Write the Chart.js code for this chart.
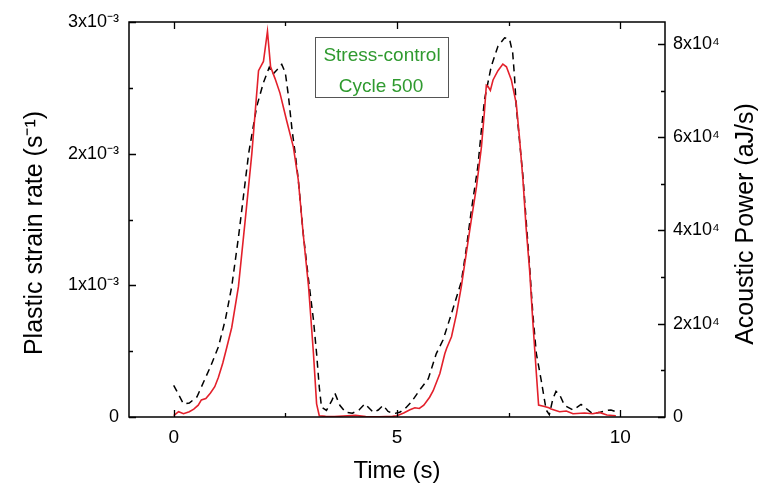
<!DOCTYPE html>
<html>
<head>
<meta charset="utf-8">
<script src="https://cdn.jsdelivr.net/npm/chart.js@4/dist/chart.umd.min.js"></script>
<style>
  html, body { margin: 0; padding: 0; background: #ffffff; }
  #wrap { width: 769px; height: 487px; }
</style>
</head>
<body>
<div id="wrap"><canvas id="c" width="769" height="487"></canvas></div>
<script>
// ---- Data ----
// Plastic strain rate (left axis, s^-1)
const strainTime = [0.00,0.11,0.22,0.35,0.45,0.55,0.62,0.72,0.82,0.92,1.00,1.10,1.19,1.30,1.45,1.60,1.75,1.90,2.01,2.10,2.17,2.27,2.38,2.53,2.68,2.79,2.90,3.02,3.13,3.20,3.26,3.40,3.60,3.80,4.07,4.30,4.60,4.90,5.00,5.15,5.29,5.40,5.50,5.60,5.73,5.81,5.96,6.07,6.11,6.22,6.33,6.44,6.55,6.66,6.78,6.89,6.96,7.00,7.04,7.09,7.15,7.26,7.37,7.45,7.56,7.67,7.74,7.82,7.89,7.97,8.04,8.12,8.17,8.30,8.40,8.45,8.64,8.79,8.94,9.20,9.38,9.53,9.70,9.90];
const strainRate = [0.010e-3,0.040e-3,0.025e-3,0.040e-3,0.060e-3,0.090e-3,0.130e-3,0.140e-3,0.180e-3,0.230e-3,0.300e-3,0.410e-3,0.530e-3,0.680e-3,0.990e-3,1.490e-3,2.000e-3,2.630e-3,2.700e-3,2.930e-3,2.660e-3,2.570e-3,2.460e-3,2.250e-3,2.050e-3,1.800e-3,1.390e-3,0.990e-3,0.480e-3,0.100e-3,0.010e-3,0.005e-3,0.003e-3,0.008e-3,0.012e-3,0.003e-3,0.002e-3,0.005e-3,0.010e-3,0.030e-3,0.055e-3,0.070e-3,0.065e-3,0.090e-3,0.150e-3,0.200e-3,0.330e-3,0.480e-3,0.520e-3,0.610e-3,0.780e-3,0.990e-3,1.240e-3,1.490e-3,1.750e-3,2.050e-3,2.330e-3,2.520e-3,2.510e-3,2.480e-3,2.560e-3,2.630e-3,2.680e-3,2.660e-3,2.560e-3,2.380e-3,2.130e-3,1.800e-3,1.440e-3,1.110e-3,0.730e-3,0.330e-3,0.090e-3,0.080e-3,0.070e-3,0.060e-3,0.040e-3,0.045e-3,0.025e-3,0.030e-3,0.025e-3,0.035e-3,0.015e-3,0.010e-3];

// Acoustic power (right axis, aJ/s)
const acousticTime = [0.00,0.10,0.22,0.35,0.52,0.67,0.82,1.00,1.16,1.30,1.45,1.53,1.68,1.86,2.01,2.14,2.22,2.32,2.42,2.50,2.57,2.65,2.72,2.79,2.90,3.02,3.13,3.20,3.26,3.31,3.42,3.54,3.61,3.72,3.85,4.00,4.15,4.28,4.47,4.58,4.69,4.80,4.92,5.06,5.20,5.32,5.51,5.70,5.88,6.03,6.22,6.44,6.55,6.66,6.81,6.89,6.96,7.11,7.26,7.41,7.52,7.59,7.63,7.67,7.74,7.82,7.89,7.97,8.04,8.12,8.23,8.34,8.41,8.49,8.56,8.64,8.75,8.94,9.12,9.20,9.38,9.55,9.68,9.79,9.94];
const acousticPower = [6800,5000,2800,3000,4300,7500,10700,15000,21000,28000,38500,44800,56600,66600,71700,75000,73500,74500,75600,73800,68800,61600,56600,50900,39400,29400,20800,13600,6400,2100,1400,3500,5100,2500,1000,800,1500,2800,1000,1500,2500,1200,700,1000,2000,3200,5800,8200,13600,16500,22200,29000,36000,44000,53700,61600,68100,75200,79500,81300,81000,78100,73100,66600,59500,51600,42300,32200,22200,13600,7800,1500,500,3900,5500,4800,2500,1500,2700,2100,700,1000,1400,1500,1000];

// Axis ticks and labels
const xTickValues = [0, 5, 10];
const xTickLabels = ['0', '5', '10'];
const xMinorTicks = [2.5, 7.5];
const leftTickValues = [0, 1e-3, 2e-3, 3e-3];
const leftTickLabels = ['0', '1x10\u207B\u00B3', '2x10\u207B\u00B3', '3x10\u207B\u00B3'];
const leftMinorTicks = [0.5e-3, 1.5e-3, 2.5e-3];
const rightTickValues = [0, 2e4, 4e4, 6e4, 8e4];
const rightTickLabels = ['0', '2x10\u2074', '4x10\u2074', '6x10\u2074', '8x10\u2074'];
const rightMinorTicks = [1e4, 3e4, 5e4, 7e4];

const xTitle = 'Time (s)';
const leftTitle = 'Plastic strain rate (s\u207B\u00B9)';
const rightTitle = 'Acoustic Power (aJ/s)';
const noteLines = ['Stress-control', 'Cycle 500'];

// ---- Chart ----
const FONT = "'Liberation Sans', Arial, Helvetica, sans-serif";
Chart.defaults.font.family = FONT;
Chart.defaults.color = '#000000';

const strainPoints = strainTime.map((t, i) => ({ x: t, y: strainRate[i] }));
const acousticPoints = acousticTime.map((t, i) => ({ x: t, y: acousticPower[i] }));

function drawVerticalTitle(ctx, text, cx, cy) {
  ctx.save();
  ctx.fillStyle = '#000000';
  ctx.font = '25px ' + FONT;
  ctx.textAlign = 'center';
  ctx.textBaseline = 'middle';
  ctx.translate(cx, cy);
  ctx.rotate(-Math.PI / 2);
  ctx.fillText(text, 0, 0);
  ctx.restore();
}

const framePlugin = {
  id: 'frameAndNotes',
  afterDraw(chart) {
    const ctx = chart.ctx;
    const a = chart.chartArea;
    const sx = chart.scales.x, sy = chart.scales.y, sy1 = chart.scales.y1;
    ctx.save();
    ctx.strokeStyle = '#000000';
    ctx.lineWidth = 1.5;
    ctx.strokeRect(a.left, a.top, a.right - a.left, a.bottom - a.top);
    ctx.lineWidth = 1.3;
    const MAJ = 7, MIN = 4;
    ctx.beginPath();
    const xt = (vals, len) => vals.forEach(v => {
      const px = Math.round(sx.getPixelForValue(v)) + 0.5;
      ctx.moveTo(px, a.bottom); ctx.lineTo(px, a.bottom - len);
      ctx.moveTo(px, a.top); ctx.lineTo(px, a.top + len);
    });
    xt(xTickValues, MAJ); xt(xMinorTicks, MIN);
    const lt = (vals, len) => vals.forEach(v => {
      const py = Math.round(sy.getPixelForValue(v)) + 0.5;
      ctx.moveTo(a.left, py); ctx.lineTo(a.left + len, py);
    });
    lt(leftTickValues, MAJ); lt(leftMinorTicks, MIN);
    const rt = (vals, len) => vals.forEach(v => {
      const py = Math.round(sy1.getPixelForValue(v)) + 0.5;
      ctx.moveTo(a.right, py); ctx.lineTo(a.right - len, py);
    });
    rt(rightTickValues, MAJ); rt(rightMinorTicks, MIN);
    ctx.stroke();
    ctx.restore();

    // axis titles (both read bottom to top)
    drawVerticalTitle(ctx, leftTitle, 35, 233);
    drawVerticalTitle(ctx, rightTitle, 746, 224);

    // annotation box
    ctx.save();
    ctx.strokeStyle = '#555555';
    ctx.lineWidth = 1;
    ctx.strokeRect(315.5, 37.5, 133, 60);
    ctx.fillStyle = '#2f9a2f';
    ctx.font = '19px ' + FONT;
    ctx.textAlign = 'center';
    ctx.textBaseline = 'middle';
    ctx.fillText(noteLines[0], 382, 56);
    ctx.fillText(noteLines[1], 381, 87);
    ctx.restore();
  }
};

new Chart(document.getElementById('c'), {
  type: 'line',
  data: {
    datasets: [
      {
        label: 'Plastic strain rate',
        data: strainPoints,
        yAxisID: 'y',
        borderColor: '#e3202b',
        borderWidth: 1.6,
        pointRadius: 0,
        tension: 0,
        fill: false
      },
      {
        label: 'Acoustic power',
        data: acousticPoints,
        yAxisID: 'y1',
        borderColor: '#000000',
        borderWidth: 1.5,
        borderDash: [7, 5],
        pointRadius: 0,
        tension: 0,
        fill: false
      }
    ]
  },
  options: {
    responsive: false,
    animation: false,
    devicePixelRatio: 1,
    layout: { padding: { top: 22, left: 0, right: 0, bottom: 0 } },
    plugins: { legend: { display: false }, tooltip: { enabled: false } },
    scales: {
      x: {
        type: 'linear',
        position: 'bottom',
        min: -1, max: 11,
        grid: { display: false, drawTicks: false },
        border: { display: false },
        afterBuildTicks: s => { s.ticks = xTickValues.map(v => ({ value: v })); },
        afterFit: s => { s.height = 70; },
        ticks: {
          autoSkip: false, maxRotation: 0, padding: 9,
          font: { size: 19 },
          callback: v => xTickLabels[xTickValues.indexOf(v)]
        },
        title: { display: true, text: xTitle, font: { size: 24 }, padding: { top: 0, bottom: 1 } }
      },
      y: {
        type: 'linear',
        position: 'left',
        min: 0, max: 3e-3,
        grid: { display: false, drawTicks: false },
        border: { display: false },
        afterBuildTicks: s => { s.ticks = leftTickValues.map(v => ({ value: v })); },
        afterFit: s => { s.width = 129; },
        ticks: {
          autoSkip: false, padding: 10,
          font: { size: 18 },
          callback: v => leftTickLabels[leftTickValues.indexOf(v)]
        },
        title: { display: false }
      },
      y1: {
        type: 'linear',
        position: 'right',
        min: 0, max: 84700,
        grid: { display: false, drawTicks: false },
        border: { display: false },
        afterBuildTicks: s => { s.ticks = rightTickValues.map(v => ({ value: v })); },
        afterFit: s => { s.width = 104; },
        ticks: {
          autoSkip: false, padding: 8,
          font: { size: 18 },
          callback: v => rightTickLabels[rightTickValues.indexOf(v)]
        },
        title: { display: false }
      }
    }
  },
  plugins: [framePlugin]
});
</script>
</body>
</html>
